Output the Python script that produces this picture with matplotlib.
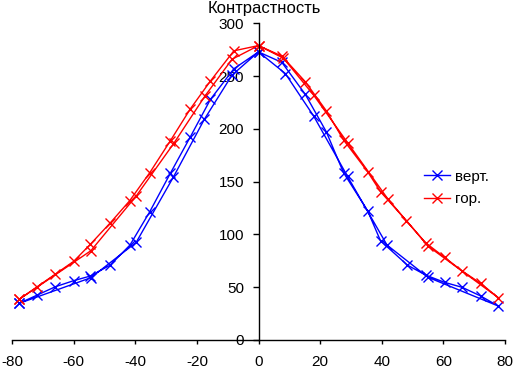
import matplotlib
matplotlib.use("Agg")
import matplotlib.pyplot as plt
import numpy as np

plt.rcParams['font.family'] = ['Liberation Sans', 'DejaVu Sans']
plt.rcParams['axes.unicode_minus'] = False

# viewing angle (deg) and contrast, forward pass then return pass
vert_angle = [-77.7, -71.8, -65.9, -60.0, -54.6, -48.1, -41.7, -35.3, -28.6, -22.1, -15.6, -8.0, 0.0,
              7.6, 15.2, 22.0, 27.6, 35.4, 39.6, 48.3, 54.2, 60.4, 66.1, 72.1, 77.8,
              55.0, 41.7, 28.9, 17.9, 8.7, 0.0, -8.6, -17.6, -27.6, -39.7, -54.4, -77.7]
vert_value = [34.7, 42.6, 50.5, 56.2, 60.6, 71.0, 90.0, 121.5, 158.0, 192.6, 228.0, 257.0, 273.0,
              263.0, 232.7, 197.3, 158.5, 122.5, 94.0, 71.0, 61.6, 54.6, 49.9, 41.7, 32.2,
              59.4, 90.0, 155.0, 212.2, 252.5, 273.0, 251.0, 209.0, 154.5, 92.5, 59.0, 34.7]

hor_angle = [-77.7, -71.8, -65.9, -60.0, -54.6, -48.1, -41.8, -35.3, -28.6, -22.1, -15.6, -8.0, 0.0,
             7.6, 15.2, 22.0, 27.6, 35.4, 39.6, 48.0, 54.2, 60.4, 66.1, 72.1, 77.8,
             55.0, 42.0, 28.9, 17.9, 8.1, 0.0, -8.6, -17.3, -27.5, -39.7, -54.4, -77.7]
hor_value = [38.5, 50.5, 62.5, 74.5, 90.6, 111.0, 132.0, 158.5, 188.8, 219.1, 245.4, 274.0, 279.0,
             269.0, 244.7, 217.2, 189.5, 159.5, 140.5, 113.0, 92.2, 78.3, 65.4, 53.7, 40.1,
             89.0, 133.6, 187.0, 232.0, 267.0, 279.0, 266.0, 231.5, 186.3, 136.4, 84.6, 38.5]

x_ticks = [-80, -60, -40, -20, 0, 20, 40, 60, 80]
y_ticks = [0, 50, 100, 150, 200, 250, 300]
legend_labels = ["верт.", "гор."]
title = "Контрастность"

fig = plt.figure(figsize=(5.13, 3.69), dpi=100)
ax = fig.add_axes([0.0234, 0.0786, 0.961, 0.858])

ax.plot(vert_angle, vert_value, color="#0000ff", lw=1.0, marker="x", ms=6.5, mew=1.0,
        label=legend_labels[0])
ax.plot(hor_angle, hor_value, color="#ff0000", lw=1.0, marker="x", ms=6.5, mew=1.0,
        label=legend_labels[1])

ax.set_xlim(-80, 80)
ax.set_ylim(0, 300)
ax.spines['left'].set_position(('data', 0))
ax.spines['bottom'].set_position(('data', 0))
ax.spines['right'].set_visible(False)
ax.spines['top'].set_visible(False)
for s in ['left', 'bottom']:
    ax.spines[s].set_linewidth(1.0)
ax.set_xticks(x_ticks)
ax.set_yticks(y_ticks)
ax.tick_params(axis='x', direction='out', length=3, width=1.0, labelsize=11, pad=7.5)
ax.tick_params(axis='y', direction='out', length=4, width=1.0, labelsize=11, pad=6.5)
ax.patch.set_visible(False)

fig.text(0.515, 0.978, title, ha='center', va='center', fontsize=12)

ax.legend(loc='center left', bbox_to_anchor=(0.836, 0.48), frameon=False, fontsize=11,
          handlelength=1.7, handletextpad=0.35, labelspacing=0.55, borderaxespad=0,
          borderpad=0)

plt.savefig("out.png", dpi=100)
